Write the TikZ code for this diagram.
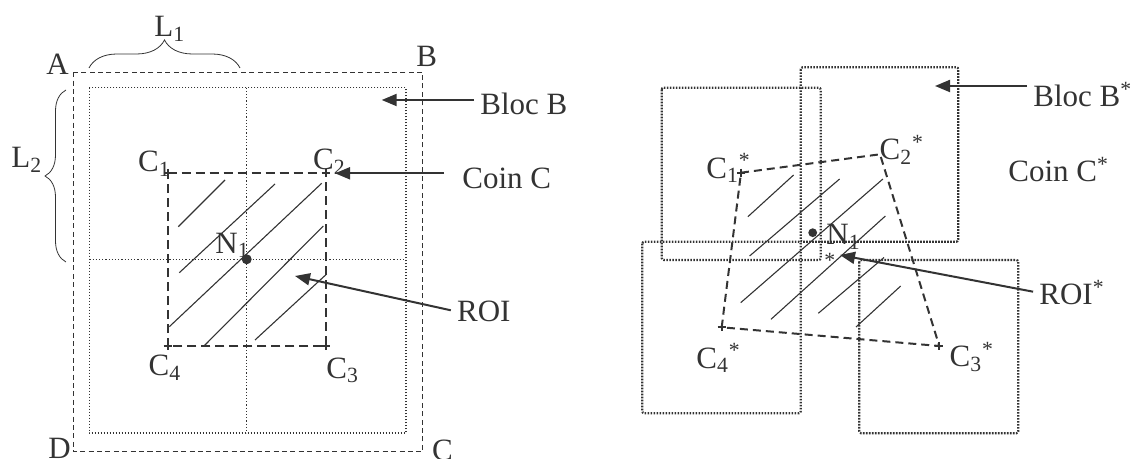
\documentclass[tikz,border=0pt]{standalone}
\usepackage{fontspec}
\setmainfont{Liberation Serif}
\usetikzlibrary{arrows.meta,decorations.pathreplacing}
\definecolor{ink}{HTML}{333333}

\begin{document}
\begin{tikzpicture}[x=0.5pt,y=-0.5pt,>={Triangle[length=7.5pt,width=6pt]},
 font=\fontsize{15.5}{18}\selectfont,color=ink,
 lbl/.style={anchor=base west,inner sep=0pt},
 arr/.style={->,line width=1pt,shorten <=3pt},
 outer/.style={line width=0.7pt,dash pattern=on 2.5pt off 1.7pt},
 blocs/.style={line width=0.8pt,dash pattern=on 0.7pt off 0.8pt},
 midline/.style={line width=0.6pt,dash pattern=on 0.6pt off 1pt},
 bloc/.style={line width=1.1pt,dash pattern=on 0.8pt off 0.7pt,rounded corners=1pt},
 roi/.style={line width=1pt,dash pattern=on 4.5pt off 2.5pt},
 cross/.style={line width=1pt},
 hatch/.style={line width=0.55pt},
 dot/.style={circle,fill,inner sep=0pt,minimum size=#1}]
\useasboundingbox (0,0) rectangle (1136,459);
% left: image ABCD, blocs B, ROI
\draw[outer] (73.3,72.3) rectangle (422.7,451.7);
\draw[blocs] (89.3,87.7) rectangle (405.7,433.3);
\draw[midline] (246.7,87.7) -- (246.7,433.3) (89.3,259.3) -- (405.7,259.3);
\node[lbl] (A) at (46,75) {A};
\node[lbl] (B) at (416,67) {B};
\node[lbl] (D) at (48,458.5) {D};
\node[lbl] (C) at (431.7,460.5) {C};
\draw[decorate,decoration={brace,amplitude=14pt}] (89,68) -- (240,68);
\draw[decorate,decoration={brace,amplitude=10.5pt}] (66,262) -- (66,90);
\node[lbl] (L1) at (154,36.7) {L\textsubscript{1}};
\node[lbl] (L2) at (11,168) {L\textsubscript{2}};
\coordinate (c1) at (167.7,173);
\coordinate (c2) at (326.3,173);
\coordinate (c3) at (326.3,346.5);
\coordinate (c4) at (167.7,346.5);
\draw[roi] (c1) -- (c2) -- (c3) -- (c4) -- cycle;
\foreach \c in {c1,c2,c3,c4} \draw[cross] (\c) +(-4,0) -- +(4,0) +(0,-4) -- +(0,4);
\foreach \xa/\ya/\xb/\yb in {178.3/226.7/225/180,179.3/272.7/275/184,169.3/326.7/321.7/183.3,
  204/346/323.3/226,255/340/326.7/274}
  \draw[hatch] (\xa,\ya) -- (\xb,\yb);
\node[dot=5pt] (n1) at (246.7,259.3) {};
\node[lbl] (lc1) at (137.7,171.7) {C\textsubscript{1}};
\node[lbl] (lc2) at (312.7,170) {C\textsubscript{2}};
\node[lbl] (lc3) at (326,378.3) {C\textsubscript{3}};
\node[lbl] (lc4) at (148.3,376) {C\textsubscript{4}};
\node[lbl] (ln1) at (215,253.3) {N\textsubscript{1}};
\node[lbl] (bloc) at (480,115) {Bloc B};
\coordinate (blocTip) at (381.7,100);
\draw[arr] (bloc.west |- blocTip) -- (blocTip);
\node[lbl] (coin) at (462,188.3) {Coin C};
\coordinate (coinTip) at (335,173.3);
\draw[arr,shorten <=9pt] (coin.west |- coinTip) -- (coinTip);
\node[lbl] (roi) at (456.7,321.7) {ROI};
\coordinate (roiTip) at (295,276);
\draw[arr] (roi.west) -- (roiTip);
% right: moved blocs B*, ROI*
\draw[bloc] (661.7,87.7) rectangle (820.7,260);
\draw[bloc] (800.7,67.3) rectangle (958.3,241.7);
\draw[bloc] (859.3,260) rectangle (1018.3,433.3);
\draw[bloc] (642.3,241.7) rectangle (800.7,413.3);
\coordinate (c1s) at (741,172.7);
\coordinate (c2s) at (880,154.3);
\coordinate (c3s) at (939.3,346);
\coordinate (c4s) at (721.7,327.3);
\draw[roi,dash pattern=on 4pt off 2.5pt] (c1s) -- (c2s) -- (c3s) -- (c4s) -- cycle;
\foreach \c in {c1s,c3s,c4s} \draw[cross] (\c) +(-4,0) -- +(4,0) +(0,-4) -- +(0,4);
\foreach \xa/\ya/\xb/\yb in {747.9/216.7/793.6/175,749.6/256/839.6/179,740.7/302.7/882.9/179,
  771/319.3/885.4/216,818.3/313.3/884/257.5,856/327/900.7/286}
  \draw[hatch] (\xa,\ya) -- (\xb,\yb);
\node[dot=4.4pt] (n1s) at (812.7,232.7) {};
\node[lbl] (lc1s) at (706,178.3) {C\textsubscript{1}\textsuperscript{*}};
\node[lbl] (lc2s) at (879.3,160) {C\textsubscript{2}\textsuperscript{*}};
\node[lbl] (lc3s) at (949.3,366.7) {C\textsubscript{3}\textsuperscript{*}};
\node[lbl] (lc4s) at (696,368.3) {C\textsubscript{4}\textsuperscript{*}};
\node[lbl] (ln1s) at (826,245) {N\textsubscript{1}};
\node[lbl,font=\fontsize{10.85}{12}\selectfont] (ln1star) at (824,268) {*};
\node[lbl] (blocs) at (1033,106.7) {Bloc B\textsuperscript{*}};
\coordinate (blocsTip) at (935,86);
\draw[arr] (blocs.west |- blocsTip) -- (blocsTip);
\node[lbl] (coins) at (1008,181.7) {Coin C\textsuperscript{*}};
\node[lbl] (rois) at (1039,305) {ROI\textsuperscript{*}};
\coordinate (roisTip) at (840,255);
\draw[arr] (rois.west) -- (roisTip);
\end{tikzpicture}
\end{document}
